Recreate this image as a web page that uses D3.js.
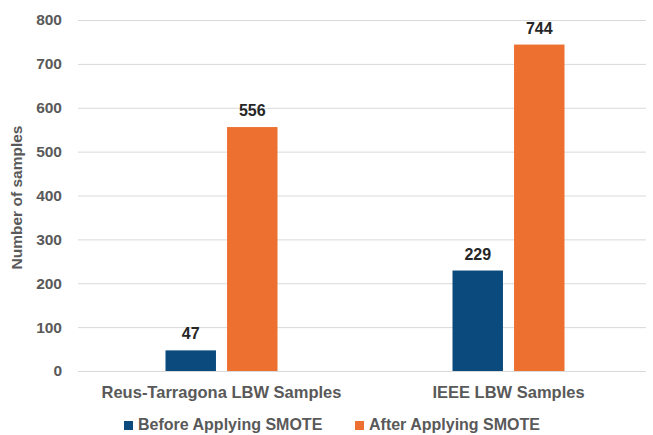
<!DOCTYPE html>
<html>
<head>
<meta charset="utf-8">
<script src="https://cdn.jsdelivr.net/npm/d3@7"></script>
<style>
  body { margin: 0; background: #fff; }
  text { font-family: "Liberation Sans", Arial, sans-serif; }
</style>
</head>
<body>
<script>
const categories = ["Reus-Tarragona LBW Samples", "IEEE LBW Samples"]
const seriesNames = ["Before Applying SMOTE", "After Applying SMOTE"]
const beforeValues = [47, 229]
const afterValues = [556, 744]
const yTicks = [0, 100, 200, 300, 400, 500, 600, 700, 800]
const colors = ["#0b4a7c", "#ed7030"]

const width = 653
const height = 435
const margin = { top: 20, right: 1, bottom: 64, left: 78 }

const svg = d3.select("body")
    .append("svg")
    .attr("width", width)
    .attr("height", height)

const x0 = d3.scaleBand()
    .domain(categories)
    .range([margin.left, width - margin.right])

const x1 = d3.scaleBand()
    .domain(seriesNames)
    .range([0, 112])
    .paddingInner(0.18)

const y = d3.scaleLinear()
    .domain([0, 800])
    .range([height - margin.bottom, margin.top])

// gridlines
svg.append("g")
    .selectAll("line")
    .data(yTicks)
    .join("line")
    .attr("x1", margin.left)
    .attr("x2", width - margin.right - 6)
    .attr("y1", (d) => y(d) + 0.5)
    .attr("y2", (d) => y(d) + 0.5)
    .attr("stroke", "#d9d9d9")
    .attr("stroke-width", 1)

// y tick labels
svg.append("g")
    .selectAll("text")
    .data(yTicks)
    .join("text")
    .attr("x", 62)
    .attr("y", (d) => y(d))
    .attr("dy", "0.35em")
    .attr("text-anchor", "end")
    .attr("font-size", 15.5)
    .attr("font-weight", "bold")
    .attr("fill", "#595959")
    .text((d) => d)

svg.append("text")
    .attr("transform", `translate(22,${(y(0) + y(800)) / 2 + 2}) rotate(-90)`)
    .attr("text-anchor", "middle")
    .attr("font-size", 15.5)
    .attr("font-weight", "bold")
    .attr("fill", "#595959")
    .text("Number of samples")

const rows = categories.map((c, i) => ({
    cat: c,
    vals: [
        { s: seriesNames[0], v: beforeValues[i], k: 0 },
        { s: seriesNames[1], v: afterValues[i], k: 1 },
    ],
}))

const groups = svg.selectAll("g.cat")
    .data(rows)
    .join("g")
    .attr("class", "cat")
    .attr("transform", (d) => `translate(${x0(d.cat) + (x0.bandwidth() - x1.range()[1]) / 2},0)`)

groups.selectAll("rect")
    .data((d) => d.vals)
    .join("rect")
    .attr("x", (d) => x1(d.s))
    .attr("width", x1.bandwidth())
    .attr("y", (d) => y(d.v))
    .attr("height", (d) => y(0) - y(d.v))
    .attr("fill", (d) => colors[d.k])

groups.selectAll("text.lbl")
    .data((d) => d.vals)
    .join("text")
    .attr("class", "lbl")
    .attr("x", (d) => x1(d.s) + x1.bandwidth() / 2)
    .attr("y", (d) => y(d.v) - 11)
    .attr("text-anchor", "middle")
    .attr("font-size", 16)
    .attr("font-weight", "bold")
    .attr("fill", "#262626")
    .text((d) => d.v)

// category labels
svg.append("g")
    .selectAll("text")
    .data(categories)
    .join("text")
    .attr("x", (d) => x0(d) + x0.bandwidth() / 2)
    .attr("y", y(0) + 27)
    .attr("text-anchor", "middle")
    .attr("font-size", 16.5)
    .attr("font-weight", "bold")
    .attr("fill", "#595959")
    .text((d) => d)

// legend
const legendX = [124, 355]
const legend = svg.append("g")
    .selectAll("g")
    .data(seriesNames)
    .join("g")
    .attr("transform", (d, i) => `translate(${legendX[i]},${y(0) + 59})`)

legend.append("rect")
    .attr("x", 0)
    .attr("y", -9)
    .attr("width", 9)
    .attr("height", 9)
    .attr("fill", (d, i) => colors[i])

legend.append("text")
    .attr("x", 14)
    .attr("y", 0)
    .attr("font-size", 16)
    .attr("font-weight", "bold")
    .attr("fill", "#595959")
    .text((d) => d)
</script>
</body>
</html>
